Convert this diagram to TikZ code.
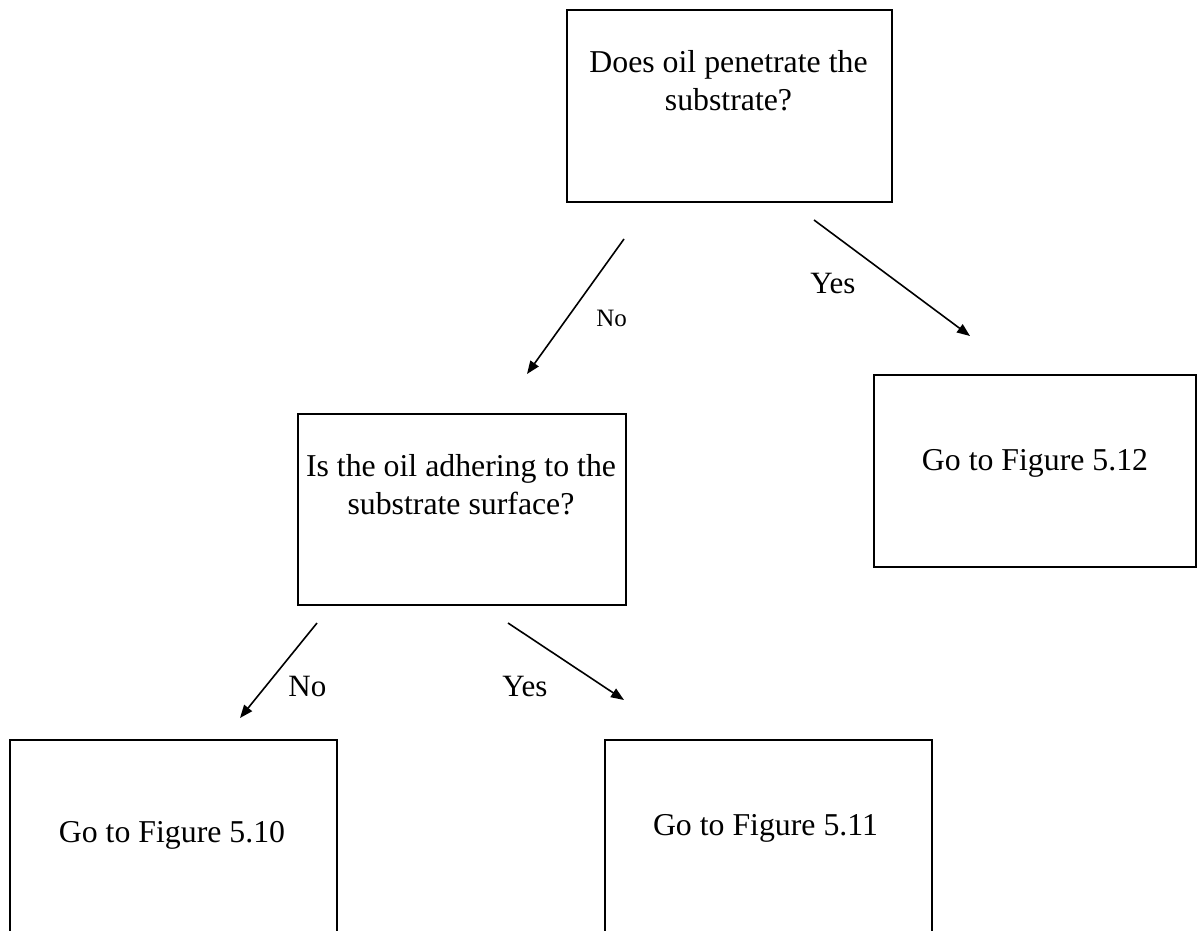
\documentclass[tikz,border=0pt]{standalone}
\usepackage{fontspec}
\setmainfont{Liberation Serif}
\usetikzlibrary{arrows.meta}
\begin{document}
\begin{tikzpicture}[x=0.5pt,y=-0.5pt,
  box/.style={draw=black, line width=0.9pt, inner sep=0pt, anchor=north west},
  boxtext/.style={inner sep=0pt, align=center, font=\fontsize{15.9}{19}\selectfont},
  lbl/.style={inner sep=0pt, anchor=base west, font=\fontsize{15.5}{18}\selectfont},
  smalllbl/.style={inner sep=0pt, anchor=base west, font=\fontsize{12.5}{15}\selectfont},
  flow/.style={draw=black, line width=0.8pt, -{Triangle[length=6.5pt,width=5pt]}}]
\useasboundingbox (0,0) rectangle (1197,930);

% decision boxes
\node[box, minimum width=162.5pt, minimum height=96pt] (q1) at (566,9) {};
\node[box, minimum width=164pt, minimum height=95.5pt] (q2) at (297,413) {};
% outcome boxes (the lower two run past the bottom edge)
\node[box, minimum width=161pt, minimum height=96pt] (r1) at (873,374) {};
\node[box, minimum width=163.5pt, minimum height=115pt] (r2) at (9,739) {};
\node[box, minimum width=163.5pt, minimum height=115pt] (r3) at (604,739) {};

% box texts
\node[boxtext, anchor=north] (q1t) at (728.5,50) {Does oil penetrate the\\substrate?};
\node[boxtext, anchor=north] (q2t) at (461,454) {Is the oil adhering to the\\substrate surface?};
\node[boxtext, anchor=base] (r1t) at (1035,470) {Go to Figure 5.12};
\node[boxtext, anchor=base] (r2t) at (172,842) {Go to Figure 5.10};
\node[boxtext, anchor=base] (r3t) at (765.5,835) {Go to Figure 5.11};

% connector end points
\coordinate (a1s) at (624,239);
\coordinate (a1e) at (527,374);
\coordinate (a2s) at (814,220);
\coordinate (a2e) at (970,336);
\coordinate (a3s) at (317,623);
\coordinate (a3e) at (240,718);
\coordinate (a4s) at (508,623);
\coordinate (a4e) at (624,700);

\draw[flow] (a1s) -- (a1e);
\draw[flow] (a2s) -- (a2e);
\draw[flow] (a3s) -- (a3e);
\draw[flow] (a4s) -- (a4e);

% branch labels
\node[smalllbl] (l1) at (596,327) {No};
\node[lbl] (l2) at (810,293) {Yes};
\node[lbl] (l3) at (288,696) {No};
\node[lbl] (l4) at (502,696) {Yes};
\end{tikzpicture}
\end{document}
